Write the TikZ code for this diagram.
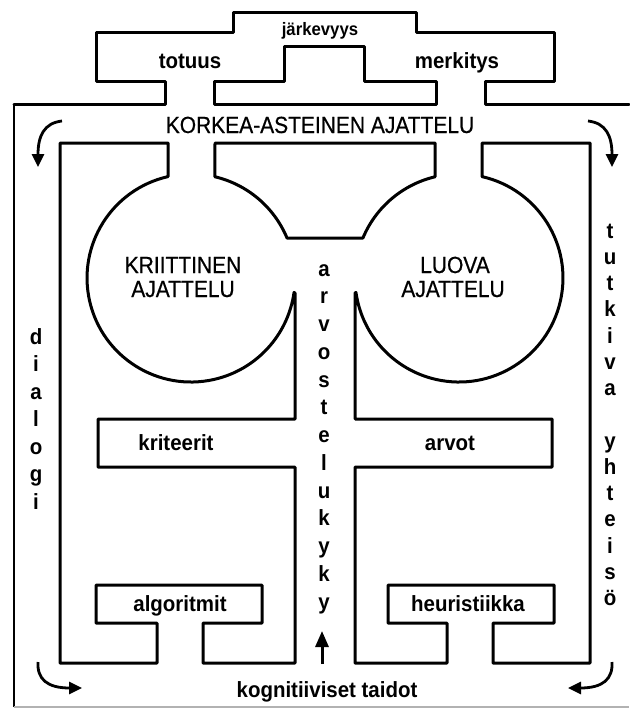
\documentclass[tikz,border=0pt]{standalone}
\usepackage{fontspec}
\setmainfont{Liberation Sans}
\newfontfamily\labfont[FakeStretch=0.93]{Liberation Sans}
\newfontfamily\capfont[FakeStretch=0.9,FakeBold=0.6]{Liberation Sans}
\usetikzlibrary{arrows.meta}
\begin{document}
\begin{tikzpicture}[x=1pt,y=-1pt,
  wall/.style={line width=3pt, line join=round, line cap=round},
  lab/.style={font=\labfont\bfseries\fontsize{22}{22}\selectfont, anchor=base, inner sep=0pt},
  smalllab/.style={font=\labfont\bfseries\fontsize{18}{18}\selectfont, anchor=base, inner sep=0pt},
  caplab/.style={font=\capfont\fontsize{23.3}{23.3}\selectfont, anchor=base, inner sep=0pt},
  arr/.style={line width=2.8pt, -{Triangle[length=13pt,width=12pt]}}]
\useasboundingbox (0,0) rectangle (629,709);
% outer frame and top structure
\draw[line width=2.2pt] (14,707) -- (14,104);
\draw[wall] (14,104) -- (165,104) -- (165,81) -- (96,81) -- (96,33) -- (233,33) -- (233,13)
  -- (416,13) -- (416,33) -- (554,33) -- (554,81) -- (485,81) -- (485,104) -- (629,104);
\draw[gray!60, line width=1.6pt] (14,707) -- (629,707);
% centre top block
\draw[wall] (214,104) -- (214,81) -- (284,81) -- (284,47) -- (364,47) -- (364,81) -- (436,81) -- (436,104) -- cycle;
% left region
\draw[wall] (60,143) -- (168,143) -- (168,176.6) arc[start angle=257.2, end angle=8, radius=104]
  -- (295,293) -- (295,419) -- (98,419) -- (98,467) -- (295,467) -- (295,663)
  -- (203,663) -- (203,623) -- (262,623) -- (262,585) -- (96,585) -- (96,623)
  -- (157,623) -- (157,663) -- (60,663) -- cycle;
% right region
\draw[wall] (590,143) -- (482,143) -- (482,176.6) arc[start angle=282.8, end angle=532, radius=104]
  -- (355,293) -- (355,419) -- (552,419) -- (552,467) -- (355,467) -- (355,663)
  -- (447,663) -- (447,623) -- (388,623) -- (388,585) -- (554,585) -- (554,623)
  -- (493,623) -- (493,663) -- (590,663) -- cycle;
% centre bridge
\draw[wall] (215,143) -- (435,143) -- (435,176.8) arc[start angle=256.7, end angle=202.6, radius=104]
  -- (287,238) arc[start angle=-22.6, end angle=-76.7, radius=104] -- cycle;
% arrows
\coordinate (tl0) at (62,121); \coordinate (tl1) at (38,167);
\coordinate (tr0) at (588,121); \coordinate (tr1) at (612,167);
\coordinate (bl0) at (38,662); \coordinate (bl1) at (82,688);
\coordinate (br0) at (612,662); \coordinate (br1) at (568,688);
\coordinate (up0) at (322,664); \coordinate (up1) at (322,631);
\draw[arr] (tl0) .. controls (44,123) and (38,136) .. (tl1);
\draw[arr] (tr0) .. controls (606,123) and (612,136) .. (tr1);
\draw[arr] (bl0) .. controls (37,679) and (47,688) .. (bl1);
\draw[arr] (br0) .. controls (613,679) and (603,688) .. (br1);
\draw[line width=3pt, -{Triangle[length=16pt,width=13pt]}] (up0) -- (up1);
% labels
\node[smalllab] (jark) at (320,35.5) {järkevyys};
\node[lab] (tot) at (190,68) {totuus};
\node[lab] (merk) at (457,68) {merkitys};
\node[caplab] (kork) at (320,133) {KORKEA-ASTEINEN AJATTELU};
\node[caplab] (krit1) at (183,273) {KRIITTINEN};
\node[caplab] (krit2) at (183,297) {AJATTELU};
\node[caplab] (luo1) at (455,273) {LUOVA};
\node[caplab] (luo2) at (453,297) {AJATTELU};
\node[lab] (kri) at (176,450) {kriteerit};
\node[lab] (arv) at (450,450) {arvot};
\node[lab] (alg) at (180,611) {algoritmit};
\node[lab] (heu) at (468,611) {heuristiikka};
\node[lab] (kog) at (327,697) {kognitiiviset taidot};
\foreach \c [count=\i from 0] in {a,r,v,o,s,t,e,l,u,k,y,k,y}
  \node[lab] (av\i) at (324,{276+27.75*\i}) {\c};
\foreach \c [count=\i from 0] in {d,i,a,l,o,g,i}
  \node[lab] (dl\i) at (36,{344+27.5*\i}) {\c};
\foreach \c [count=\i from 0] in {t,u,t,k,i,v,a}
  \node[lab] (tk\i) at (610,{238+26.25*\i}) {\c};
\foreach \c [count=\i from 8] in {y,h,t,e,i,s,ö}
  \node[lab] (yh\i) at (610,{238+26.25*\i}) {\c};
\end{tikzpicture}
\end{document}
